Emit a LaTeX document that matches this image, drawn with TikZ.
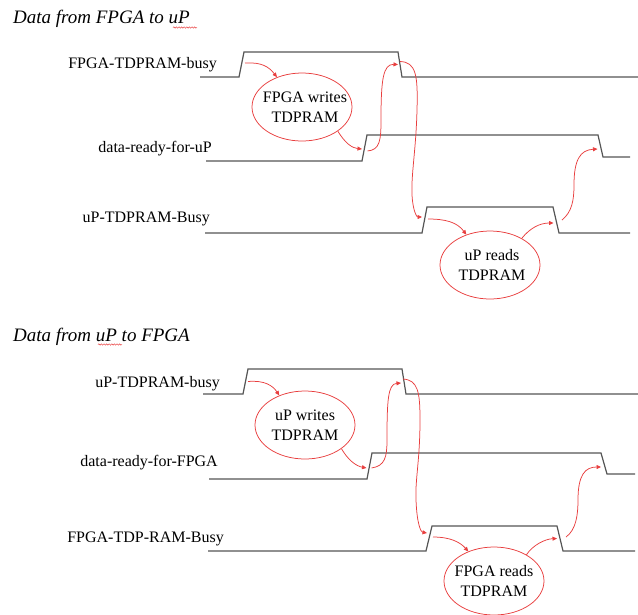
\documentclass[tikz,border=0pt]{standalone}
\usepackage{fontspec}
\setmainfont{Liberation Serif}
\usetikzlibrary{arrows.meta,shapes.geometric,decorations.pathmorphing}
\definecolor{sigline}{RGB}{85,85,85}
\definecolor{flow}{RGB}{232,62,62}
\begin{document}
\begin{tikzpicture}[x=1pt,y=-1pt,
  signal/.style={draw=sigline,line width=1.2pt,line join=miter},
  flowarrow/.style={draw=flow,line width=0.75pt,-{Triangle[length=4.5pt,width=4pt]}},
  phase/.style={ellipse,draw=flow,line width=0.75pt,minimum width=100pt,minimum height=68pt,inner sep=0pt},
  phasetext/.style={align=center,inner sep=0pt,font=\fontsize{16}{20.5}\selectfont},
  siglabel/.style={anchor=base east,inner sep=0pt,font=\fontsize{16}{20}\selectfont},
  heading/.style={anchor=base west,inner sep=0pt,font=\fontsize{19}{22}\selectfont\itshape},
  squiggle/.style={draw=flow,line width=0.45pt,decorate,decoration={snake,amplitude=0.7pt,segment length=2.6pt}}]
\useasboundingbox (0,0) rectangle (638,614);

% ---------------- Data from FPGA to uP ----------------
\node[heading] (h1) at (13,23) {Data from FPGA to uP};
\draw[squiggle] (173,27.5) -- (197,27.5);

\node[siglabel] (l1) at (217,68) {FPGA-TDPRAM-busy};
\node[siglabel] (l2) at (212,152) {data-ready-for-uP};
\node[siglabel] (l3) at (210,222) {uP-TDPRAM-Busy};

\draw[signal] (200,77) -- (239,77) -- coordinate (u1) (244,52) -- (398,52)
  -- coordinate (d1) (402,77) -- (638,77);
\draw[signal] (206,161) -- (362,161) -- coordinate (u2) (367,135) -- (598,135)
  -- coordinate (d2) (603,157) -- (630,157);
\draw[signal] (205,233) -- (422,233) -- coordinate (u3) (427,207) -- (553,207)
  -- coordinate (d3) (559,233) -- (630,233);

\node[phase] (w1) at (302,107) {};
\node[phasetext] at ([xshift=3pt]w1) {FPGA writes\\TDPRAM};
\node[phase] (r1) at (490,265) {};
\node[phasetext] at ([xshift=2pt]r1) {uP reads\\TDPRAM};

\draw[flowarrow] ([xshift=3.5pt,yshift=1.5pt]u1) .. controls (262,62) and (269,67) .. (w1.130);
\draw[flowarrow] (w1.-34) .. controls (345,143) and (352,148) .. ([xshift=-2.5pt,yshift=-1pt]u2);
\draw[flowarrow] ([xshift=3pt,yshift=-3pt]u2) .. controls (380,150) and (381,140) .. (381,120)
  .. controls (381,80) and (383,64) .. ([xshift=-2pt]d1);
\draw[flowarrow] ([yshift=3pt]d1) .. controls (416,62) and (418,75) .. (417,110)
  .. controls (416,150) and (411,175) .. (412,195)
  .. controls (413,212) and (417,217) .. ([xshift=-2.5pt,yshift=3pt]u3);
\draw[flowarrow] ([xshift=3.5pt,yshift=1pt]u3) .. controls (445,219) and (457,222) .. (r1.128);
\draw[flowarrow] (r1.40) .. controls (530,228) and (540,223) .. ([xshift=-2.5pt,yshift=-3pt]d3);
\draw[flowarrow] ([xshift=6pt]d3) .. controls (572,212) and (574,200) .. (574,185)
  .. controls (574,160) and (580,150) .. ([xshift=-3pt,yshift=-3pt]d2);

% ---------------- Data from uP to FPGA ----------------
\node[heading] (h2) at (13,341) {Data from uP to FPGA};
\draw[squiggle] (98,344.5) -- (122,344.5);

\node[siglabel] (m1) at (220,387) {uP-TDPRAM-busy};
\node[siglabel] (m2) at (218,466) {data-ready-for-FPGA};
\node[siglabel] (m3) at (224,542) {FPGA-TDP-RAM-Busy};

\draw[signal] (203,394) -- (243,394) -- coordinate (U1) (248,369) -- (402,369)
  -- coordinate (D1) (406,394) -- (638,394);
\draw[signal] (209,479) -- (367,479) -- coordinate (U2) (372,453) -- (601,453)
  -- coordinate (D2) (607,474) -- (635,474);
\draw[signal] (208,551) -- (426,551) -- coordinate (U3) (432,526) -- (557,526)
  -- coordinate (D3) (563,551) -- (635,551);

\node[phase] (w2) at (305,425) {};
\node[phasetext] at (w2) {uP writes\\TDPRAM};
\node[phase] (r2) at (494,581) {};
\node[phasetext] at (r2) {FPGA reads\\TDPRAM};

\draw[flowarrow] ([xshift=2.5pt]U1) .. controls (265,380) and (273,386) .. (w2.131);
\draw[flowarrow] (w2.-33) .. controls (348,460) and (356,466) .. ([xshift=-3pt,yshift=-2pt]U2);
\draw[flowarrow] ([xshift=2pt,yshift=-2pt]U2) .. controls (385,466) and (387,457) .. (387,440)
  .. controls (387,400) and (388,384) .. ([xshift=-3pt,yshift=-1.5pt]D1);
\draw[flowarrow] ([xshift=-1pt,yshift=2.5pt]D1) .. controls (418,380) and (420,392) .. (420,420)
  .. controls (420,460) and (415,480) .. (416,500)
  .. controls (417,525) and (421,532) .. ([xshift=-2pt,yshift=5.5pt]U3);
\draw[flowarrow] ([xshift=4pt,yshift=1.5pt]U3) .. controls (450,537) and (460,542) .. (r2.131);
\draw[flowarrow] (r2.39) .. controls (533,545) and (545,539) .. ([xshift=-3pt]D3);
\draw[flowarrow] ([xshift=6pt,yshift=1.5pt]D3) .. controls (576,530) and (578,515) .. (578,500)
  .. controls (578,475) and (585,467) .. ([xshift=-3pt,yshift=-3.5pt]D2);
\end{tikzpicture}
\end{document}
